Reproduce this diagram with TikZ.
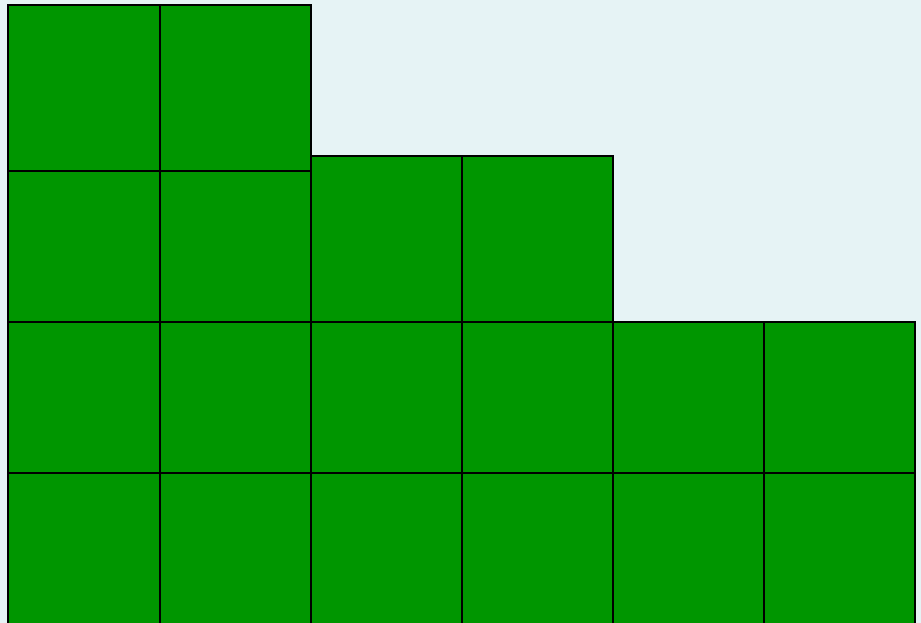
\documentclass[tikz,border=0pt]{standalone}
\definecolor{bgblue}{RGB}{230,243,245}
\definecolor{cellgreen}{RGB}{0,150,0}
\begin{document}
\begin{tikzpicture}[x=1pt,y=-1pt,
  cell/.style={fill=cellgreen,draw=black,line width=1.6pt}]
\useasboundingbox (0,0) rectangle (921,623);
\fill[bgblue] (0,0) rectangle (921,623);
\clip (0,0) rectangle (921,623);
% columns 1-2
\draw[cell] (8,5) rectangle (160,171);
\draw[cell] (160,5) rectangle (311,171);
\foreach \x/\xx in {8/160,160/311}{
  \draw[cell] (\x,171) rectangle (\xx,322);
}
% columns 3-4
\draw[cell] (311,156) rectangle (462,322);
\draw[cell] (462,156) rectangle (613,322);
% lower two rows, all columns
\foreach \x/\xx in {8/160,160/311,311/462,462/613,613/764,764/915}{
  \draw[cell] (\x,322) rectangle (\xx,473);
  \draw[cell] (\x,473) rectangle (\xx,625);
}
\end{tikzpicture}
\end{document}
